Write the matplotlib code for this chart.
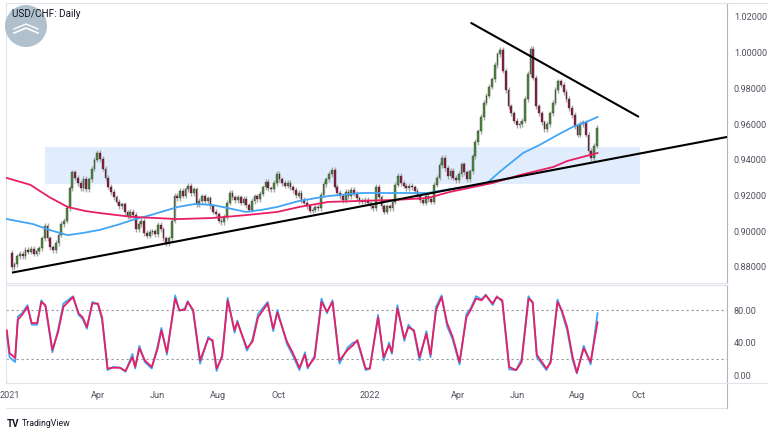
import numpy as np
import matplotlib
matplotlib.use("Agg")
import matplotlib.pyplot as plt
from matplotlib.patches import Rectangle, Ellipse
from matplotlib.lines import Line2D

plt.rcParams["font.family"] = ["Roboto", "DejaVu Sans"]

# ----------------------------------------------------------------------------------
#  DATA. x axis = trading-day index from START.
# ----------------------------------------------------------------------------------
START = "2021-01-04"
BAR_STEP = 2            # one candle per two trading days
first_open = 0.8880
closes = [
    0.8800, 0.8815, 0.8860, 0.8875, 0.8860, 0.8895, 0.8885, 0.8900, 0.8875, 0.8890,
    0.8905, 0.8960, 0.9030, 0.8960, 0.8910, 0.8895, 0.8935, 0.8980, 0.9040, 0.9060,
    0.9130, 0.9240, 0.9330, 0.9300, 0.9270, 0.9240, 0.9295, 0.9235, 0.9290, 0.9350,
    0.9400, 0.9440, 0.9405, 0.9350, 0.9300, 0.9250, 0.9220, 0.9190, 0.9165, 0.9140,
    0.9150, 0.9105, 0.9085, 0.9110, 0.9090, 0.9010, 0.9040, 0.9060, 0.8990, 0.8975,
    0.8995, 0.9000, 0.8985, 0.9035, 0.9010, 0.8960, 0.8935, 0.8960, 0.9060, 0.9200,
    0.9185, 0.9225, 0.9200, 0.9235, 0.9255, 0.9215, 0.9235, 0.9150, 0.9170, 0.9195,
    0.9170, 0.9185, 0.9140, 0.9110, 0.9095, 0.9060, 0.9050, 0.9080, 0.9160, 0.9215,
    0.9190, 0.9175, 0.9190, 0.9160, 0.9180, 0.9145, 0.9120, 0.9170, 0.9195, 0.9180,
    0.9210, 0.9245, 0.9275, 0.9240, 0.9235, 0.9270, 0.9320, 0.9290, 0.9270, 0.9255,
    0.9270, 0.9245, 0.9230, 0.9200, 0.9215, 0.9175, 0.9160, 0.9140, 0.9115, 0.9120,
    0.9135, 0.9130, 0.9205, 0.9265, 0.9290, 0.9320, 0.9345, 0.9250, 0.9215, 0.9195,
    0.9175, 0.9220, 0.9195, 0.9230, 0.9210, 0.9185, 0.9170, 0.9165, 0.9175, 0.9160,
    0.9140, 0.9130, 0.9250, 0.9190, 0.9140, 0.9110, 0.9140, 0.9130, 0.9165, 0.9260,
    0.9310, 0.9270, 0.9255, 0.9240, 0.9255, 0.9245, 0.9225, 0.9195, 0.9175, 0.9160,
    0.9195, 0.9180, 0.9165, 0.9260, 0.9300, 0.9370, 0.9410, 0.9355, 0.9310, 0.9340,
    0.9300, 0.9285, 0.9320, 0.9375, 0.9330, 0.9290, 0.9335, 0.9420, 0.9500, 0.9560,
    0.9640, 0.9720, 0.9760, 0.9810, 0.9850, 0.9930, 0.9990, 1.0015, 0.9900, 0.9790,
    0.9700, 0.9660, 0.9620, 0.9595, 0.9600, 0.9620, 0.9740, 0.9880, 1.0020, 0.9860,
    0.9700, 0.9660, 0.9610, 0.9570, 0.9600, 0.9660, 0.9720, 0.9790, 0.9840, 0.9820,
    0.9780, 0.9740, 0.9690, 0.9650, 0.9590, 0.9540, 0.9600, 0.9610, 0.9540, 0.9450,
    0.9410, 0.9480, 0.9580,
]

# moving averages (blue = faster, pink = slower)
ma_fast_idx = [-3, 16, 28, 41, 52, 64, 77, 88, 101, 121, 133, 146, 157, 170, 182, 193,
               209, 230, 254, 278, 302, 318, 333, 345, 354, 371, 383, 396, 407, 417, 425]
ma_fast = [0.9068, 0.9040, 0.9007, 0.8978, 0.8990, 0.9007, 0.9035, 0.9063, 0.9090, 0.9136,
           0.9152, 0.9147, 0.9130, 0.9108, 0.9120, 0.9136, 0.9170, 0.9197, 0.9214, 0.9214,
           0.9214, 0.9236, 0.9250, 0.9270, 0.9332, 0.9438, 0.9483, 0.9539, 0.9584, 0.9612,
           0.9640]
ma_slow_idx = [-3, 14, 28, 41, 54, 64, 88, 121, 146, 170, 193, 209, 230, 254, 278, 302,
               318, 349, 369, 393, 403, 425]
ma_slow = [0.9298, 0.9260, 0.9190, 0.9136, 0.9113, 0.9102, 0.9080, 0.9068, 0.9074, 0.9090,
           0.9108, 0.9136, 0.9164, 0.9170, 0.9175, 0.9186, 0.9220, 0.9270, 0.9315, 0.9360,
           0.9393, 0.9438]

# stochastic oscillator
stoch_idx = [-3, -1, 3, 5, 8, 12, 15, 19, 22, 25, 30, 34, 38, 45, 49, 52, 55, 59, 63, 66,
             70, 74, 79, 83, 88, 90, 93, 97, 102, 106, 109, 113, 119, 122, 126, 128, 132, 137, 143, 146,
             149, 153, 157, 162, 164, 171, 175, 179, 186, 190, 193, 200, 204, 209, 213, 215, 220, 225, 229, 233,
             238, 244, 248, 251, 257, 260, 266, 270, 274, 276, 280, 285, 288, 292, 296, 301, 304, 308, 312, 316,
             320, 325, 330, 333, 337, 341, 344, 349, 352, 356, 361, 366, 370, 375, 378, 381, 388, 391, 396, 399,
             403, 407, 410, 415, 420, 425]
stoch_k = [50, 22, 16, 72, 76, 86, 62, 62, 92, 84, 28, 55, 88, 97, 74, 69, 57, 90, 87, 68,
           6, 10, 9, 4, 26, 8, 36, 16, 8, 34, 58, 25, 98, 79, 82, 91, 78, 14, 47, 41,
           5, 25, 95, 52, 67, 30, 44, 75, 90, 54, 80, 38, 25, 6, 28, 8, 24, 94, 76, 92,
           14, 34, 40, 41, 6, 8, 74, 18, 40, 26, 86, 42, 62, 53, 18, 54, 22, 84, 98, 60,
           44, 13, 75, 82, 97, 93, 99, 86, 97, 90, 7, 6, 20, 97, 88, 22, 6, 18, 93, 78,
           55, 18, 2, 36, 13, 76]
stoch_d = [55, 27, 21, 68, 74, 84, 64, 64, 90, 86, 31, 52, 84, 96, 76, 71, 59, 88, 88, 71,
           8, 9, 9, 5, 22, 10, 33, 18, 10, 31, 55, 28, 94, 80, 80, 90, 80, 18, 45, 43,
           8, 22, 92, 55, 65, 33, 41, 71, 88, 57, 77, 41, 28, 9, 25, 10, 21, 90, 78, 90,
           18, 31, 37, 43, 8, 8, 71, 22, 37, 28, 82, 45, 59, 55, 22, 51, 25, 80, 96, 64,
           47, 16, 71, 80, 94, 92, 98, 88, 96, 92, 10, 6, 16, 94, 90, 25, 8, 15, 90, 80,
           59, 22, 3, 33, 16, 65]

# drawings
support_x, support_y = [0.7, 519], [0.8768, 0.9528]
resist_x, resist_y = [333, 455], [1.0168, 0.9640]
zone_x, zone_y = [24.6, 456], [0.9264, 0.9472]

tick_dates = ["2021-01-01", "2021-04-01", "2021-06-01", "2021-08-02", "2021-10-01",
              "2022-01-03", "2022-04-01", "2022-06-01", "2022-08-01", "2022-10-03"]
tick_labels = ["2021", "Apr", "Jun", "Aug", "Oct", "2022", "Apr", "Jun", "Aug", "Oct"]
price_ticks = [0.88, 0.90, 0.92, 0.94, 0.96, 0.98, 1.00, 1.02]
stoch_ticks = [0, 40, 80]
stoch_bands = [20, 80]

# ----------------------------------------------------------------------------------
#  STYLE
# ----------------------------------------------------------------------------------
UP, DOWN, WICK_C = "#4e8c3e", "#8f1c47", "#a8a8a8"
WICK = 0.0015
BLUE, PINK = "#42a5f5", "#e91e63"
GRID_C, AXIS_C, TXT = "#e0e3eb", "#b2b5be", "#131722"
W, H = 768, 432

fig = plt.figure(figsize=(W / 100, H / 100), dpi=100)
ax = fig.add_axes([6 / W, 1 - 283 / H, 721 / W, 280 / H])
ax2 = fig.add_axes([6 / W, 1 - 383 / H, 721 / W, 98 / H], sharex=ax)

XLIM = (-3.6, 518.8)

# ---- candles ----
cl = np.array(closes)
op = np.r_[first_open, cl[:-1]]
xs = np.arange(len(cl)) * BAR_STEP + 0.5
hi = np.maximum(op, cl) + WICK
lo = np.minimum(op, cl) - WICK
body = cl - op
body[np.abs(body) < 0.0004] = 0.0004
ax.add_patch(Rectangle((zone_x[0], zone_y[0]), zone_x[1] - zone_x[0], zone_y[1] - zone_y[0],
                       facecolor="#e1edfc", edgecolor="none", zorder=1))
ax.vlines(xs, lo, hi, color=WICK_C, lw=1.0, zorder=3)
ax.bar(xs, body, bottom=op, width=1.3, color=np.where(cl >= op, UP, DOWN),
       edgecolor="#2a2a2a", linewidth=0.25, zorder=4)

ax.plot(ma_fast_idx, ma_fast, color=BLUE, lw=1.3, zorder=5)
ax.plot(ma_slow_idx, ma_slow, color=PINK, lw=1.3, zorder=5)
ax.plot(support_x, support_y, color="black", lw=1.5, zorder=6, solid_capstyle="butt")
ax.plot(resist_x, resist_y, color="black", lw=1.5, zorder=6, solid_capstyle="butt")

ax.set_xlim(*XLIM)
ax.set_ylim(0.8710, 1.0278)
ax.yaxis.tick_right()
ax.set_yticks(price_ticks)
ax.set_yticklabels([f"{v:.5f}" for v in price_ticks])
ax.tick_params(axis="y", length=0, pad=5, labelsize=6.6, labelcolor="#50535e")
ax.tick_params(axis="x", length=0, labelbottom=False)

# ---- stochastic ----
for b in stoch_bands:
    ax2.axhline(b, color="#9598a1", lw=0.8, ls=(0, (2, 2.5)), zorder=1)
ax2.plot(stoch_idx, stoch_k, color=BLUE, lw=1.3, zorder=3, solid_joinstyle="round")
ax2.plot(stoch_idx, stoch_d, color=PINK, lw=1.3, zorder=4, solid_joinstyle="round")
ax2.set_ylim(-9.8, 110.8)
ax2.yaxis.tick_right()
ax2.set_yticks(stoch_ticks)
ax2.set_yticklabels([f"{v:.2f}" for v in stoch_ticks])
ax2.tick_params(axis="y", length=0, pad=5, labelsize=6.6, labelcolor="#50535e")

tick_pos = [int(np.busday_count(START, d)) if d >= START else -int(np.busday_count(d, START))
            for d in tick_dates]
ax2.set_xticks(tick_pos)
ax2.set_xticklabels(tick_labels)
ax2.tick_params(axis="x", length=0, pad=5.5, labelsize=6.6, labelcolor="#50535e")

for a in (ax, ax2):
    for s in ("top", "left", "bottom"):
        a.spines[s].set_color(GRID_C)
        a.spines[s].set_linewidth(0.8)
    a.spines["right"].set_color(AXIS_C)
    a.spines["right"].set_linewidth(0.8)
    a.set_facecolor("white")

# frame pieces outside the panels
fr = fig.transFigure
fig.add_artist(Line2D([6 / W, 727 / W], [1 - 408 / H] * 2, color=GRID_C, lw=0.8, transform=fr))
fig.add_artist(Line2D([727 / W] * 2, [1 - 408 / H, 1 - 383 / H], color=AXIS_C, lw=0.8, transform=fr))
fig.add_artist(Line2D([727 / W, 1], [1 - 383 / H] * 2, color=GRID_C, lw=0.8, transform=fr))
fig.add_artist(Line2D([727 / W, 1], [1 - 3 / H] * 2, color=GRID_C, lw=0.8, transform=fr))

# logo + title
fig.add_artist(Ellipse((26 / W, 1 - 26 / H), 42 / W, 42 / H, transform=fr,
                       facecolor="#a9b9c8", edgecolor="none", alpha=0.9, zorder=10))
fig.add_artist(Line2D([14 / W, 26 / W, 38 / W], [1 - 33 / H, 1 - 28 / H, 1 - 33 / H],
                      color="white", lw=1.2, transform=fr, zorder=11))
fig.add_artist(Line2D([14 / W, 26 / W, 38 / W], [1 - 29 / H, 1 - 24 / H, 1 - 29 / H],
                      color="white", lw=1.0, transform=fr, zorder=11))
fig.text(12 / W, 1 - 14 / H, "USD/CHF: Daily", fontsize=7.2, color=TXT, va="center",
         ha="left", zorder=12)

fig.text(7 / W, 1 - 424 / H, "TV", fontsize=7, weight="bold", color=TXT, va="center")
fig.text(22 / W, 1 - 424 / H, "TradingView", fontsize=6.3, color=TXT, va="center")

fig.savefig("out.png", dpi=100, facecolor="white")
